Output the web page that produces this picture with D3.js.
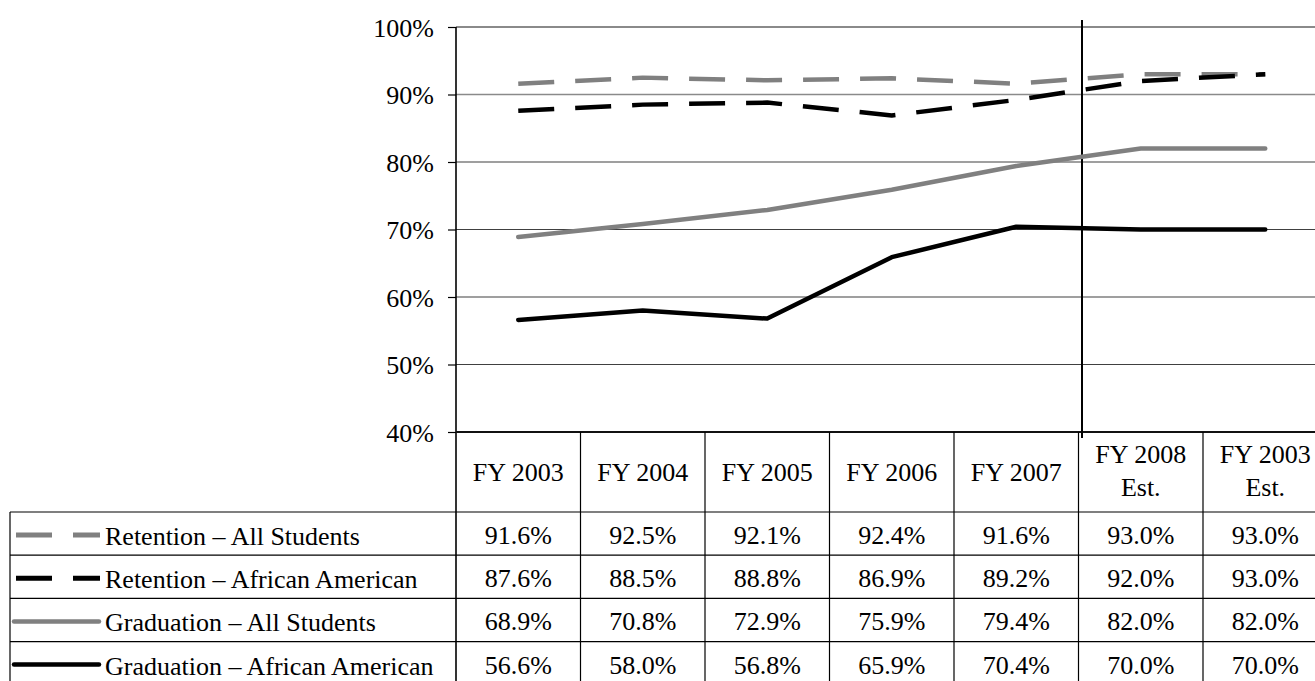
<!DOCTYPE html>
<html>
<head>
<meta charset="utf-8">
<script src="https://cdn.jsdelivr.net/npm/d3@7"></script>
<style>
  html, body { margin: 0; padding: 0; background: #fff; overflow: hidden; }
  svg { display: block; font-family: "Liberation Serif", "Times New Roman", serif; }
</style>
</head>
<body>
<svg id="chart" width="1315" height="681"></svg>
<script>
// ---- Data ----
const categories = ["FY 2003", "FY 2004", "FY 2005", "FY 2006", "FY 2007", "FY 2008 Est.", "FY 2003 Est."];
const retentionAll = [91.6, 92.5, 92.1, 92.4, 91.6, 93.0, 93.0];
const retentionAA = [87.6, 88.5, 88.8, 86.9, 89.2, 92.0, 93.0];
const graduationAll = [68.9, 70.8, 72.9, 75.9, 79.4, 82.0, 82.0];
const graduationAA = [56.6, 58.0, 56.8, 65.9, 70.4, 70.0, 70.0];
const seriesNames = ["Retention \u2013 All Students", "Retention \u2013 African American", "Graduation \u2013 All Students", "Graduation \u2013 African American"];
const yTicks = [40, 50, 60, 70, 80, 90, 100];
const estimateStart = "FY 2008 Est.";

const seriesValues = [retentionAll, retentionAA, graduationAll, graduationAA];
const seriesStyle = [
  { color: "#808080", dash: "36,21", cap: "butt" },
  { color: "#000000", dash: "36,21", cap: "butt" },
  { color: "#808080", dash: null, cap: "round" },
  { color: "#000000", dash: null, cap: "round" }
];

// ---- Layout ----
const W = 1315, H = 681;
const plotLeft = 456, colW = 124.5;
const plotTop = 27, plotBottom = 432;
const headerBottom = 512;
const rowH = 43.2;
const tableLeft = 10;
const fs = 26;

const svg = d3.select("#chart");

const x = d3.scaleBand().domain(categories).range([plotLeft, plotLeft + colW * categories.length]).padding(0);
const y = d3.scaleLinear().domain([40, 100]).range([plotBottom, plotTop]);

// Gridlines
svg.append("g").selectAll("line").data(yTicks.filter(t => t > 40)).join("line")
  .attr("x1", plotLeft).attr("x2", W)
  .attr("y1", d => y(d)).attr("y2", d => y(d))
  .attr("stroke", d => d >= 90 ? "#8a8a8a" : "#404040")
  .attr("stroke-width", d => d === 100 ? 2 : (d >= 90 ? 1.6 : 1.1));

// Y axis (ticks on the left)
const yAxis = d3.axisLeft(y).tickValues(yTicks).tickFormat(d => d + "%").tickSize(8).tickPadding(14);
const yg = svg.append("g").attr("transform", `translate(${plotLeft},0)`).call(yAxis);
yg.select(".domain").remove();
yg.selectAll(".tick line").attr("stroke", "#000").attr("stroke-width", 1.2);
yg.selectAll(".tick text")
  .attr("font-family", "Liberation Serif, Times New Roman, serif")
  .attr("font-size", fs).attr("fill", "#000")
  .attr("dy", null).attr("y", 9);

// Y axis line
svg.append("line").attr("x1", plotLeft).attr("x2", plotLeft)
  .attr("y1", y(100)).attr("y2", H).attr("stroke", "#000").attr("stroke-width", 1.6);

// Bottom axis line (40%)
svg.append("line").attr("x1", plotLeft).attr("x2", W)
  .attr("y1", y(40)).attr("y2", y(40)).attr("stroke", "#111").attr("stroke-width", 2);

// Estimate divider line
const divX = x(estimateStart) + 3.5;
svg.append("line").attr("x1", divX).attr("x2", divX)
  .attr("y1", y(100) - 7).attr("y2", y(40) + 6)
  .attr("stroke", "#000").attr("stroke-width", 2);

// Series lines
const line = d3.line()
  .x((d, i) => x(categories[i]) + x.bandwidth() / 2)
  .y(d => y(d));

seriesValues.forEach((vals, si) => {
  const st = seriesStyle[si];
  svg.append("path").datum(vals)
    .attr("d", line)
    .attr("fill", "none")
    .attr("stroke", st.color)
    .attr("stroke-width", 4.5)
    .attr("stroke-linecap", st.cap)
    .attr("stroke-linejoin", "round")
    .attr("stroke-dasharray", st.dash);
});

// ---- Table ----
const tg = svg.append("g");
// column separators in header and rows
const colEdges = categories.map(c => x(c)).concat([x(categories[categories.length - 1]) + x.bandwidth()]);
tg.selectAll("line.col").data(colEdges.slice(1)).join("line")
  .attr("class", "col")
  .attr("x1", d => d).attr("x2", d => d)
  .attr("y1", y(40)).attr("y2", H)
  .attr("stroke", "#000").attr("stroke-width", 1.2);

// row lines
const rowTops = seriesNames.map((s, i) => headerBottom + i * rowH);
tg.selectAll("line.row").data(rowTops).join("line")
  .attr("class", "row")
  .attr("x1", tableLeft).attr("x2", W)
  .attr("y1", d => d).attr("y2", d => d)
  .attr("stroke", "#000").attr("stroke-width", 1.2);

// left border of legend section
tg.append("line").attr("x1", tableLeft).attr("x2", tableLeft)
  .attr("y1", headerBottom).attr("y2", H)
  .attr("stroke", "#000").attr("stroke-width", 1.2);

// Header labels
categories.forEach(c => {
  const cx = x(c) + x.bandwidth() / 2;
  const m = c.match(/^(.*) (Est\.)$/);
  const t = tg.append("text").attr("x", cx).attr("text-anchor", "middle")
    .attr("font-size", fs).attr("fill", "#000");
  if (m) {
    t.append("tspan").attr("x", cx).attr("y", 463).text(m[1]);
    t.append("tspan").attr("x", cx).attr("y", 496).text(m[2]);
  } else {
    t.attr("y", 481).text(c);
  }
});

// Legend rows & values
seriesNames.forEach((name, si) => {
  const top = rowTops[si];
  const cy = top + 23;
  const st = seriesStyle[si];
  if (st.dash) {
    tg.append("line").attr("x1", 16).attr("x2", 100).attr("y1", cy).attr("y2", cy)
      .attr("stroke", st.color).attr("stroke-width", 5).attr("stroke-dasharray", st.dash);
  } else {
    tg.append("line").attr("x1", 14).attr("x2", 99).attr("y1", cy).attr("y2", cy)
      .attr("stroke", st.color).attr("stroke-width", 4.5).attr("stroke-linecap", "round");
  }
  tg.append("text").attr("x", 105).attr("y", top + 33)
    .attr("font-size", fs).attr("fill", "#000").text(name);
  seriesValues[si].forEach((v, i) => {
    tg.append("text")
      .attr("x", x(categories[i]) + x.bandwidth() / 2)
      .attr("y", top + 32)
      .attr("text-anchor", "middle")
      .attr("font-size", fs).attr("fill", "#000")
      .text(v.toFixed(1) + "%");
  });
});
</script>
</body>
</html>
